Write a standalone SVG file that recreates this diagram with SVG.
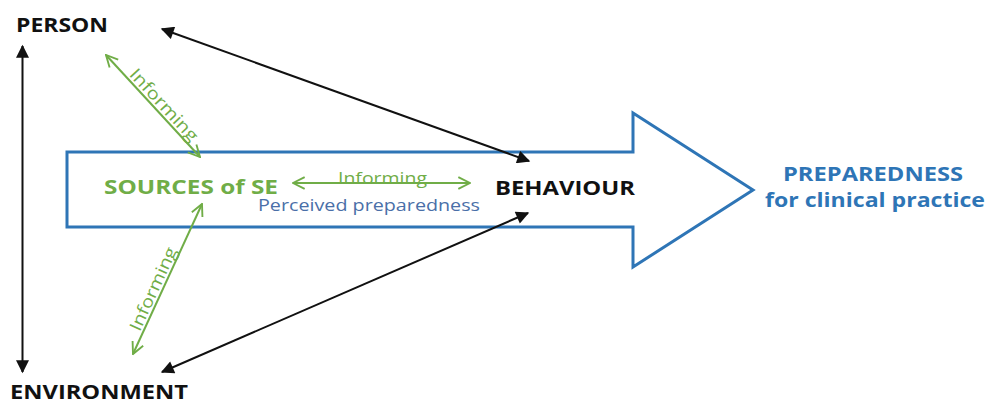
<svg xmlns="http://www.w3.org/2000/svg" width="988" height="405" viewBox="0 0 988 405">
<style>
.lbl{font-family:"Open Sans","Liberation Sans",sans-serif;font-weight:bold;font-size:20px}
.blk{fill:#111}
.grn{fill:#70ad47}
.blu{fill:#2e75b6}
.inf{font-family:"Open Sans","Liberation Sans",sans-serif;font-size:17px;fill:#70ad47}
.bl{stroke:#111;stroke-width:2;fill:none}
.gl{stroke:#70ad47;stroke-width:2;fill:none}
</style>
<defs>
<marker id="bhs" viewBox="0 0 10 10" refX="9" refY="5" markerWidth="15" markerHeight="13" markerUnits="userSpaceOnUse" orient="auto-start-reverse"><path d="M0,0 L10,5 L0,10 z" fill="#111"/></marker>
<marker id="gh" viewBox="0 0 12 12" refX="11" refY="6" markerWidth="14" markerHeight="14" markerUnits="userSpaceOnUse" orient="auto-start-reverse"><path d="M1,1 L11,6 L1,11" fill="none" stroke="#70ad47" stroke-width="1.6"/></marker>
</defs>
<rect width="988" height="405" fill="#fff"/>
<g id="big-arrow">
<path d="M67,152 L633,152 L633,113 L753,190 L633,267 L633,227 L67,227 Z" fill="#fff" stroke="#2e75b6" stroke-width="3"/>
</g>
<g id="connectors">
<line class="bl" x1="22.5" y1="46" x2="22.5" y2="372" marker-start="url(#bhs)" marker-end="url(#bhs)"/>
<line class="bl" x1="162" y1="29" x2="529" y2="161" marker-start="url(#bhs)" marker-end="url(#bhs)"/>
<line class="bl" x1="528" y1="213" x2="162" y2="372" marker-start="url(#bhs)" marker-end="url(#bhs)"/>
<line class="gl" x1="106" y1="55" x2="200" y2="157" marker-start="url(#gh)" marker-end="url(#gh)"/>
<line class="gl" x1="202" y1="204" x2="133" y2="354" marker-start="url(#gh)" marker-end="url(#gh)"/>
<line class="gl" x1="293" y1="183" x2="470" y2="183" marker-start="url(#gh)" marker-end="url(#gh)"/>
<text class="inf" transform="translate(159.7,108.9) rotate(47.3)" text-anchor="middle" textLength="92" lengthAdjust="spacingAndGlyphs">Informing</text>
<text class="inf" transform="translate(158.5,291.3) rotate(-65.3)" text-anchor="middle" textLength="90" lengthAdjust="spacingAndGlyphs">Informing</text>
<text class="inf" x="382.5" y="184" text-anchor="middle" textLength="89" lengthAdjust="spacingAndGlyphs">Informing</text>
</g>
<g id="person"><text class="lbl blk" x="16" y="32" textLength="92" lengthAdjust="spacingAndGlyphs">PERSON</text></g>
<g id="environment"><text class="lbl blk" x="10" y="399" font-size="19" textLength="178" lengthAdjust="spacingAndGlyphs">ENVIRONMENT</text></g>
<g id="sources"><text class="lbl grn" x="104" y="194" textLength="174" lengthAdjust="spacingAndGlyphs">SOURCES of SE</text></g>
<g id="behaviour"><text class="lbl blk" x="495" y="195" textLength="140" lengthAdjust="spacingAndGlyphs">BEHAVIOUR</text></g>
<g id="perceived"><text x="258" y="211" font-family="Open Sans, Liberation Sans, sans-serif" font-size="17" fill="#4a6fa8" textLength="222" lengthAdjust="spacingAndGlyphs">Perceived preparedness</text></g>
<g id="preparedness">
<text class="lbl blu" x="783" y="181" font-size="19" textLength="180" lengthAdjust="spacingAndGlyphs">PREPAREDNESS</text>
<text class="lbl blu" x="765" y="207" font-size="19" textLength="220" lengthAdjust="spacingAndGlyphs">for clinical practice</text>
</g>
</svg>
